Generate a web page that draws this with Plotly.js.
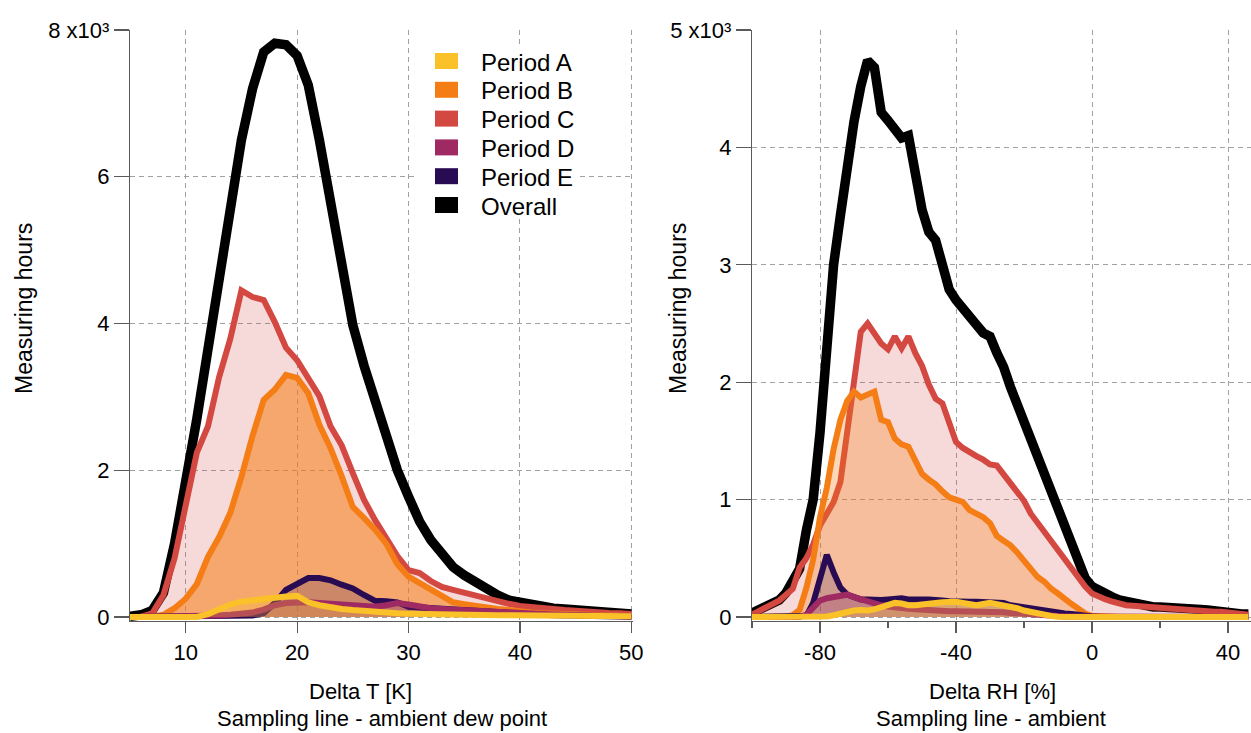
<!DOCTYPE html>
<html>
<head>
<meta charset="utf-8">
<script src="https://cdn.plot.ly/plotly-3.0.1.min.js"></script>
<style>
html,body{margin:0;padding:0;background:#ffffff;}
#chart{width:1251px;height:733px;}
</style>
</head>
<body>
<div id="chart"></div>
<script>
// ---------- data ----------
const seriesNames  = ['Period A','Period B','Period C','Period D','Period E','Overall'];
const seriesColors = ['#fac228','#f57d15','#d44842','#9f2a63','#280b53','#000000'];

// Left panel: Delta T [K] (sampling line - ambient dew point)
const dtX = [5,6,7,8,9,10,11,12,13,14,15,16,17,18,19,20,21,22,23,24,25,26,27,28,29,30,
             31,32,33,34,35,36,37,38,39,40,41,42,43,44,45,46,47,48,49,50];
const dtA = [0,0,0,0,0,0,0,40,110,170,210,230,260,270,280,290,200,160,130,110,95,80,65,55,50,45,
             40,40,35,35,30,30,30,25,25,25,20,20,20,15,15,15,10,10,10,10];
const dtB = [0,0,5,30,120,250,450,820,1090,1420,1910,2470,2960,3100,3300,3260,3050,2620,2300,1920,1500,1350,1190,1000,720,550,
             460,380,290,200,175,150,120,110,95,70,60,50,45,40,35,30,25,20,15,10];
const dtC = [0,5,50,300,800,1550,2240,2600,3270,3790,4450,4360,4320,4020,3670,3500,3270,3010,2600,2340,1960,1600,1320,1060,830,640,
             600,490,410,370,330,290,250,200,180,150,130,120,110,95,80,70,65,55,50,40];
const dtD = [0,0,0,0,0,0,5,10,20,30,40,60,100,160,190,200,200,190,180,160,150,140,140,160,190,170,
             140,120,110,100,90,80,70,60,55,50,45,40,35,30,25,20,15,12,10,8];
const dtE = [0,0,0,0,0,0,0,0,0,0,0,20,50,190,370,460,530,530,500,440,390,300,220,215,200,140,
             130,120,110,90,80,70,60,50,45,40,35,30,25,20,15,12,10,8,5,5];
const dtAll = [10,30,90,330,1000,1800,2700,3650,4550,5500,6500,7200,7700,7820,7800,7650,7250,6500,5680,4760,3980,3430,2920,2410,2000,1640,
               1300,1050,845,680,570,480,370,300,230,200,160,150,120,110,95,80,70,60,50,40];

// Right panel: Delta RH [%] (sampling line - ambient)
const rhX = [-100,-98,-96,-94,-92,-90,-88,-86,-84,-82,-80,-78,-76,-74,-72,-70,-68,-66,-64,-62,
             -60,-58,-56,-54,-52,-50,-48,-46,-44,-42,-40,-38,-36,-34,-32,-30,-28,-26,-24,-22,
             -20,-18,-16,-14,-12,-10,-8,-6,-4,-2,0,2,4,6,8,10,12,14,16,18,
             20,22,24,26,28,30,32,34,36,38,40,42,44,46];
const rhA = [0,0,0,0,0,0,0,0,0,0,0,5,15,30,45,55,60,55,65,85,
             105,120,115,100,100,110,115,120,125,130,130,120,110,100,110,120,110,100,90,75,
             55,40,25,15,8,3,0,0,0,0,0,0,0,0,0,0,0,0,0,0,
             0,0,0,0,0,0,0,0,0,0,0,0,0,0];
const rhB = [0,0,0,0,0,5,15,60,250,490,850,1100,1430,1680,1840,1920,1870,1890,1920,1680,
             1660,1520,1470,1450,1320,1220,1170,1130,1070,1020,1000,980,910,880,850,800,690,650,610,550,
             480,400,340,300,240,200,150,110,70,30,10,5,0,0,0,0,0,0,0,0,
             0,0,0,0,0,0,0,0,0,0,0,0,0,0];
const rhC = [20,50,80,110,140,190,240,420,500,620,780,880,980,1150,1600,2000,2430,2500,2420,2330,
             2280,2390,2290,2390,2250,2140,1980,1860,1820,1660,1490,1440,1400,1370,1340,1300,1290,1210,1130,1060,
             990,880,800,740,650,560,490,410,340,260,200,170,150,130,110,100,95,90,85,80,
             75,75,70,70,65,60,55,50,45,45,40,30,25,20];
const rhD = [0,0,0,0,0,0,0,0,20,90,140,160,170,180,190,170,150,140,120,100,
             90,80,75,70,65,60,60,55,55,50,50,50,50,45,45,45,40,40,35,30,
             25,20,15,15,10,10,5,5,5,0,0,0,0,0,0,0,0,0,0,0,
             0,0,0,0,0,0,0,0,0,0,0,0,0,0];
const rhE = [0,0,0,0,0,0,0,0,10,120,320,530,380,250,190,165,150,150,145,145,
             150,155,160,150,145,150,150,150,140,135,130,130,130,130,130,130,125,120,100,90,
             80,70,60,55,45,40,30,25,15,10,5,0,0,0,0,0,0,0,0,0,
             0,0,0,0,0,0,0,0,0,0,0,0,0,0];
const rhAll = [35,60,95,120,145,205,290,410,740,1000,1570,2400,3000,3420,3900,4220,4520,4740,4680,4300,
               4230,4150,4080,4100,3740,3470,3280,3210,3000,2790,2700,2620,2560,2490,2420,2390,2250,2130,1960,1810,
               1660,1510,1340,1180,1030,900,760,620,480,330,260,225,195,170,145,130,120,100,95,85,
               85,85,80,75,75,75,65,60,50,45,35,35,25,25];

// Tick labels and texts
const leftYTickVals  = [0,2000,4000,6000,8000];
const leftYTickText  = ['0','2','4','6','8 x10\u00b3'];
const rightYTickVals = [0,1000,2000,3000,4000,5000];
const rightYTickText = ['0','1','2','3','4','5 x10\u00b3'];
const leftXTickVals  = [10,20,30,40,50];
const leftXTickText  = ['10','20','30','40','50'];
const rightXTickVals = [-80,-40,0,40];
const rightXTickText = ['-80','-40','0','40'];
const yTitle = 'Measuring hours';
const leftXTitle  = ['Delta T [K]', 'Sampling line - ambient dew point'];
const rightXTitle = ['Delta RH [%]', 'Sampling line - ambient'];

// ---------- styling ----------
const W = 1251, H = 733;
const FONT = '"Liberation Sans", Arial, Helvetica, sans-serif';
const fillLeft  = ['rgba(250,194,40,0.25)','rgba(245,125,21,0.55)','rgba(212,72,66,0.2)','rgba(159,42,99,0.22)','rgba(40,11,83,0.2)'];
const fillRight = ['rgba(250,194,40,0.25)','rgba(245,125,21,0.3)','rgba(212,72,66,0.2)','rgba(159,42,99,0.22)','rgba(40,11,83,0.2)'];
const lineW = [6,6,6,6,6,9.5];

const leftSeries  = [dtA,dtB,dtC,dtD,dtE,dtAll];
const rightSeries = [rhA,rhB,rhC,rhD,rhE,rhAll];
// draw order (bottom -> top): Overall, C, B, E, D, A
const drawOrder = [5,2,1,4,3,0];

const traces = [];
function addPanel(xs, series, fills, xa, ya){
  drawOrder.forEach(i => {
    const t = {
      x: xs, y: series[i], xaxis: xa, yaxis: ya,
      type: 'scatter', mode: 'lines',
      line: {color: seriesColors[i], width: lineW[i]},
      name: seriesNames[i], showlegend: false, hoverinfo: 'skip'
    };
    if (i < 5) { t.fill = 'tozeroy'; t.fillcolor = fills[i]; }
    traces.push(t);
  });
}
addPanel(dtX, leftSeries, fillLeft, 'x', 'y');
addPanel(rhX, rightSeries, fillRight, 'x2', 'y2');

const px = v => v / W;
const py = v => 1 - v / H;

const axisCol = '#5a5a5a';
const gridCol = '#a0a0a0';
function xAxis(domPx, range, tickvals, ticktext, anchor){
  return {
    domain: [px(domPx[0]), px(domPx[1])], range: range, anchor: anchor,
    tickmode: 'array', tickvals: tickvals, ticktext: ticktext,
    ticks: 'outside', ticklen: 11, tickwidth: 1.2, tickcolor: axisCol,
    showline: true, linecolor: axisCol, linewidth: 1.2,
    showgrid: true, gridcolor: gridCol, griddash: '5px,4px', gridwidth: 1,
    zeroline: false, fixedrange: true,
    tickfont: {size: 22, color: '#000'}
  };
}
function yAxis(domPx, range, tickvals, ticktext, anchor){
  return {
    domain: [py(domPx[1]), py(domPx[0])], range: range, anchor: anchor,
    tickmode: 'array', tickvals: tickvals, ticktext: ticktext,
    ticks: 'outside', ticklen: 15, tickwidth: 1.2, tickcolor: axisCol,
    showline: true, linecolor: axisCol, linewidth: 1.2,
    showgrid: true, gridcolor: gridCol, griddash: '5px,4px', gridwidth: 1,
    zeroline: false, fixedrange: true,
    tickfont: {size: 22, color: '#000'}
  };
}

// axis titles (placed as in the reference)
const annotations = [
  {text: yTitle, x: px(24),  y: py(309), textangle: -90, font: {size: 23}},
  {text: yTitle, x: px(678), y: py(309), textangle: -90, font: {size: 23}},
  {text: leftXTitle[0],  x: px(360), y: py(691), font: {size: 22}},
  {text: leftXTitle[1],  x: px(382), y: py(718), font: {size: 22}},
  {text: rightXTitle[0], x: px(992), y: py(691), font: {size: 22}},
  {text: rightXTitle[1], x: px(991), y: py(718), font: {size: 22}}
].map(a => Object.assign({xref: 'paper', yref: 'paper', showarrow: false,
                          xanchor: 'center', yanchor: 'middle'}, a));

// legend (white box + square swatches + labels)
const shapes = [{type: 'rect', xref: 'paper', yref: 'paper', layer: 'above',
                 x0: px(414), x1: px(580), y0: py(218), y1: py(45),
                 fillcolor: '#ffffff', line: {width: 0}}];
const legRow0 = 61, legStep = 28.8;
seriesNames.forEach((n, i) => {
  const cy = legRow0 + i * legStep;
  shapes.push({type: 'rect', xref: 'paper', yref: 'paper', layer: 'above',
               x0: px(435), x1: px(458), y0: py(cy + 8), y1: py(cy - 8),
               fillcolor: seriesColors[i], line: {width: 0}});
  annotations.push({text: n, xref: 'paper', yref: 'paper', x: px(479), y: py(cy + 1),
                    xanchor: 'left', yanchor: 'middle', showarrow: false,
                    font: {size: 24, color: '#000'}});
});

const layout = {
  width: W, height: H,
  margin: {l: 0, r: 0, t: 0, b: 0, pad: 0},
  paper_bgcolor: '#ffffff', plot_bgcolor: '#ffffff',
  font: {family: FONT, size: 22, color: '#000'},
  showlegend: false,
  xaxis:  xAxis([130, 633], [5, 50.15], leftXTickVals, leftXTickText, 'y'),
  yaxis:  yAxis([29.5, 621], [-54.5, 8006.8], leftYTickVals, leftYTickText, 'x'),
  xaxis2: xAxis([752, 1251], [-100, 46.76], rightXTickVals, rightXTickText, 'y2'),
  yaxis2: yAxis([29.5, 621], [-34.1, 5004.3], rightYTickVals, rightYTickText, 'x2'),
  annotations: annotations,
  shapes: shapes
};
layout.xaxis2.minor = {dtick: 20, tick0: 0, ticks: 'outside', ticklen: 6, tickwidth: 1.2, tickcolor: axisCol, showgrid: false};

Plotly.newPlot('chart', traces, layout, {displayModeBar: false, staticPlot: true});
</script>
</body>
</html>
